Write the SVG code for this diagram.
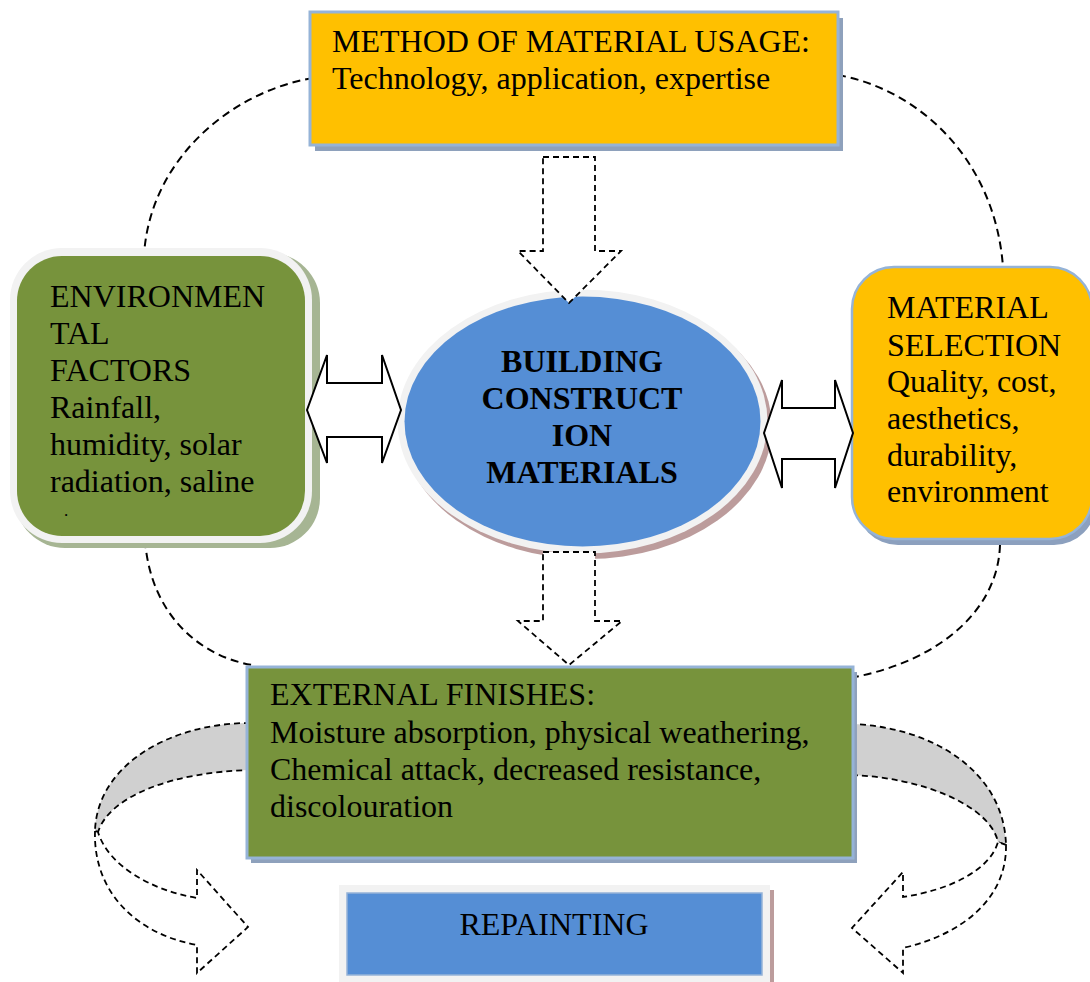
<svg xmlns="http://www.w3.org/2000/svg" width="1090" height="982" viewBox="0 0 1090 982">
<defs>
<style>
.t{font-family:"Liberation Serif","Times New Roman",serif;font-size:32px;fill:#000}
.b{font-weight:bold;text-anchor:middle}
.dash{fill:none;stroke:#000;stroke-width:2;stroke-dasharray:8 5}
.dashw{fill:#fff;stroke:#000;stroke-width:1.8;stroke-dasharray:6 4;stroke-linejoin:miter}
.dashg{fill:#D0D0D0;stroke:#000;stroke-width:1.8;stroke-dasharray:6 4}
.dbl{fill:#fff;stroke:#000;stroke-width:2;stroke-linejoin:miter}
</style>
</defs>
<rect width="1090" height="982" fill="#fff"/>

<g id="connectors-back">
<path class="dash" d="M313,78 C230,92 150,160 144,255"/>
<path class="dash" d="M145,540 C150,610 195,655 252,665"/>
<path class="dash" d="M838,75 C920,90 995,160 1003,267"/>
<path class="dash" d="M1000,545 C998,610 940,660 855,677"/>
<path class="dashg" d="M250,723 C170,723 97,765 95,831 L98,832 C110,795 175,772 250,770 Z"/>
<path class="dashw" d="M95,831 C93,895 140,935 197,945 L197,973 L248,927 L197,870 L197,898 C150,890 108,865 98,832 Z"/>
<path class="dashg" d="M850,724 C930,726 1004,770 1006,845 L998,842 C990,805 920,777 850,775 Z"/>
<path class="dashw" d="M1006,845 C1007,900 960,935 903,948 L903,973 L852,928 L903,872 L903,897 C950,890 990,870 998,842 Z"/>
</g>

<g id="node-method">
<rect x="315" y="18" width="528" height="133" fill="#8EA1BC"/>
<rect x="310" y="12" width="528" height="133" fill="#FFC000" stroke="#95B3D7" stroke-width="3"/>
<text class="t" x="332" y="52">METHOD OF MATERIAL USAGE:</text>
<text class="t" x="332" y="89">Technology, application, expertise</text>
</g>

<g id="node-environmental">
<rect x="15" y="253" width="305" height="295" rx="50" fill="#A6B593"/>
<rect x="10" y="248" width="302" height="295" rx="52" fill="#F2F2F2"/>
<rect x="17" y="256" width="288" height="280" rx="45" fill="#77933C"/>
<text class="t" x="50" y="307">ENVIRONMEN</text>
<text class="t" x="50" y="344">TAL</text>
<text class="t" x="50" y="381">FACTORS</text>
<text class="t" x="50" y="418">Rainfall,</text>
<text class="t" x="50" y="455">humidity, solar</text>
<text class="t" x="50" y="492">radiation, saline</text>
<text class="t" x="64" y="516" style="font-size:17px">.</text>
</g>

<g id="node-building">
<ellipse cx="587" cy="427" rx="185" ry="132" fill="#BC9C9C"/>
<ellipse cx="582.5" cy="421.5" rx="185" ry="132" fill="#F2F2F2"/>
<ellipse cx="582.5" cy="421.5" rx="178" ry="125" fill="#558ED5"/>
<text class="t b" x="582" y="372">BUILDING</text>
<text class="t b" x="582" y="409">CONSTRUCT</text>
<text class="t b" x="582" y="446">ION</text>
<text class="t b" x="582" y="483">MATERIALS</text>
</g>

<g id="node-selection">
<rect x="856" y="273" width="240" height="272" rx="42" fill="#8CA0BE"/>
<rect x="852" y="267" width="240" height="272" rx="42" fill="#FFC000" stroke="#95B3D7" stroke-width="2.5"/>
<text class="t" x="887" y="318">MATERIAL</text>
<text class="t" x="887" y="356">SELECTION</text>
<text class="t" x="887" y="392">Quality, cost,</text>
<text class="t" x="887" y="429">aesthetics,</text>
<text class="t" x="887" y="466">durability,</text>
<text class="t" x="887" y="502">environment</text>
</g>

<g id="node-finishes">
<rect x="251" y="672" width="606" height="191" fill="#8EA1BC"/>
<rect x="247" y="667" width="606" height="191" fill="#77933C" stroke="#95B3D7" stroke-width="3"/>
<text class="t" x="270" y="705">EXTERNAL FINISHES:</text>
<text class="t" x="270" y="743">Moisture absorption, physical weathering,</text>
<text class="t" x="270" y="780">Chemical attack, decreased resistance,</text>
<text class="t" x="270" y="817">discolouration</text>
</g>

<g id="node-repainting">
<rect x="344" y="890" width="430" height="92" fill="#BC9C9C"/>
<rect x="339" y="885" width="431" height="97" fill="#F2F2F2"/>
<rect x="347" y="893" width="415" height="82" fill="#558ED5" stroke="#95B3D7" stroke-width="1.5"/>
<text class="t" x="554" y="935" text-anchor="middle">REPAINTING</text>
</g>

<g id="connectors">
<path class="dashw" d="M543,157 L595,157 L595,251 L621,251 L569,303 L518,251 L543,251 Z"/>
<path class="dashw" d="M543,552 L595,552 L595,621 L622,621 L569,665 L518,621 L543,621 Z"/>
<path class="dbl" d="M307,410 L327,355 L327,383 L382,383 L382,355 L401,410 L382,463 L382,437 L327,437 L327,463 Z"/>
<path class="dbl" d="M764,433 L782,380 L782,408 L835,408 L835,380 L853,433 L835,488 L835,459 L782,459 L782,488 Z"/>
</g>
</svg>
